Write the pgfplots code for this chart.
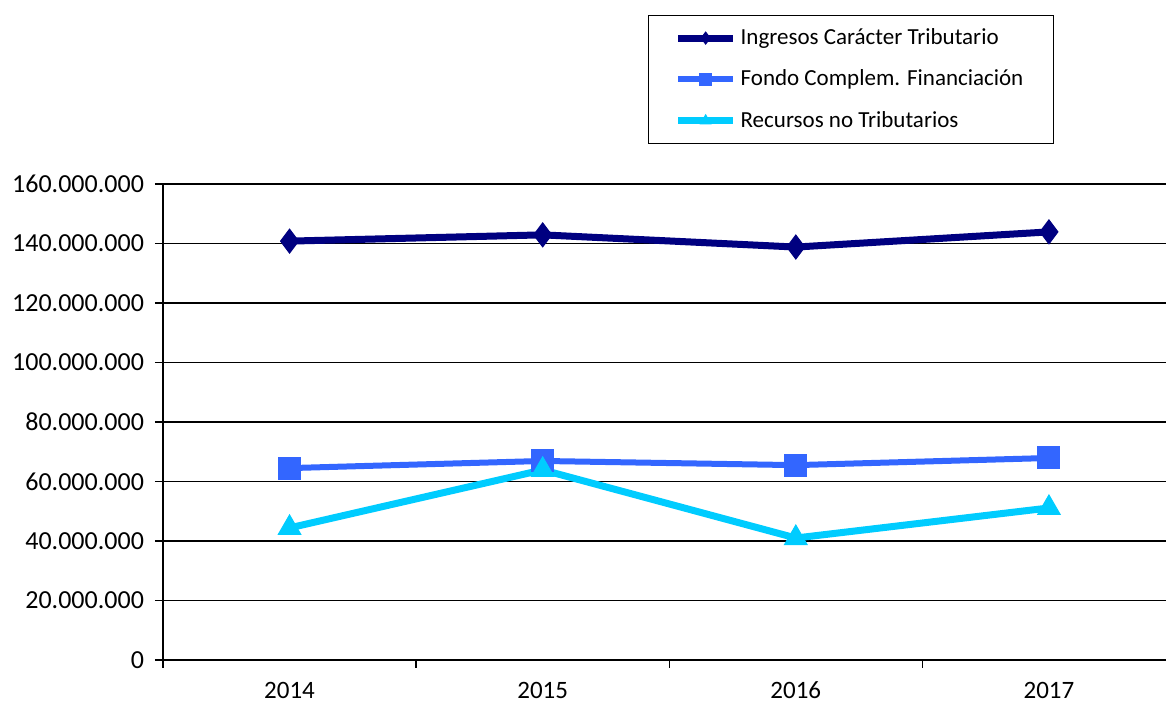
\documentclass[border=0pt]{standalone}
\usepackage{fontspec}
\setmainfont{Carlito}
\usepackage{pgfplots}
\pgfplotsset{compat=1.18}
\definecolor{cIng}{HTML}{000080}
\definecolor{cFon}{HTML}{3366FF}
\definecolor{cRec}{HTML}{00CCFF}
\begin{document}
\begin{tikzpicture}
\begin{axis}[
  scale only axis,
  width=501.5pt, height=238pt,
  at={(0,0)}, anchor=south west,
  xmin=0.5, xmax=4.4625,
  ymin=0, ymax=160000000,
  scaled y ticks=false,
  axis x line*=bottom, axis y line*=left,
  axis line style={black, line width=0.7pt},
  xtick={1,2,3,4},
  xticklabels={2014,2015,2016,2017},
  minor xtick={0.5,1.5,2.5,3.5},
  ytick={0,20000000,40000000,60000000,80000000,100000000,120000000,140000000,160000000},
  yticklabels={0,20.000.000,40.000.000,60.000.000,80.000.000,100.000.000,120.000.000,140.000.000,160.000.000},
  tick align=outside,
  x tick style={draw=none},
  minor x tick style={draw=black, line width=0.7pt},
  minor tick length=4pt,
  y tick style={black, line width=0.7pt},
  major tick length=4pt,
  ymajorgrids,
  grid style={black, line width=0.6pt},
  /pgf/number format/assume math mode=true,
  tick label style={font=\fontsize{13}{15}\selectfont},
  yticklabel style={xshift=-2pt},
  xticklabel style={yshift=-3.5pt, font=\fontsize{12.5}{14}\selectfont},
  legend style={at={(axis description cs:0.4836,1.355)}, anchor=north west,
    draw=black, line width=0.6pt, font=\fontsize{11.5}{14}\selectfont,
    inner xsep=13pt, inner ysep=4.5pt, row sep=7.2pt},
  legend cell align=left,
  legend image code/.code={\draw[mark repeat=2,mark phase=2,#1,mark size=3pt] plot coordinates {(0pt,0pt) (13.75pt,0pt) (27.5pt,0pt)};},
  clip=false,
]
\addplot[cIng, line width=3.5pt, mark=diamond*, mark size=6pt, mark options={solid, line width=0.5pt, fill=cIng}]
  coordinates {(1,140800000) (2,142900000) (3,138800000) (4,143900000)};
\addlegendentry{Ingresos Carácter Tributario}
\addplot[cFon, line width=3pt, mark=square*, mark size=5.5pt, mark options={solid, line width=0.5pt, fill=cFon}]
  coordinates {(1,64500000) (2,66900000) (3,65500000) (4,67900000)};
\addlegendentry{Fondo Complem. Financiación}
\addplot[cRec, line width=3.5pt, mark=triangle*, mark size=6.5pt, mark options={solid, line width=0.5pt, fill=cRec}]
  coordinates {(1,44400000) (2,63900000) (3,41000000) (4,51100000)};
\addlegendentry{Recursos no Tributarios}
\end{axis}
\pgfresetboundingbox
\path[use as bounding box] (-81.5pt,-22.5pt) rectangle (501.5pt,330pt);
\end{tikzpicture}
\end{document}
